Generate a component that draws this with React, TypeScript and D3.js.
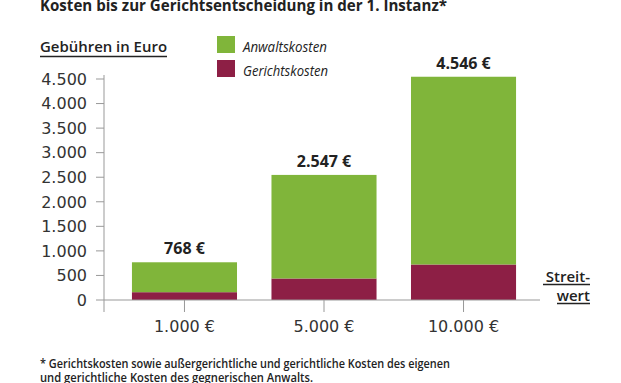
import React from "react";
import * as d3 from "d3";

const categories = ["1.000 €", "5.000 €", "10.000 €"];
const gerichtskosten = [159, 438, 723];
const totals = [768, 2547, 4546];
const anwaltskosten = totals.map((t, i) => t - gerichtskosten[i]);
const totalLabels = ["768 €", "2.547 €", "4.546 €"];
const yTicks = [0, 500, 1000, 1500, 2000, 2500, 3000, 3500, 4000, 4500];
const seriesNames = ["Anwaltskosten", "Gerichtskosten"];

const GREEN = "#80b53a";
const MAROON = "#8d1f45";
const TEXT = "#222";
const AXIS = "#999";

const W = 621;
const H = 383;

export default function App() {
  const y = d3.scaleLinear().domain([0, 4500]).range([300, 79]);
  const x = d3
    .scaleBand<string>()
    .domain(categories)
    .range([106, 542])
    .paddingInner(0.247)
    .paddingOuter(0.186);
  const fmt = (v: number) => d3.format(",")(v).replace(/,/g, ".");

  const rows = categories.map((c, i) => ({
    cat: c,
    Gerichtskosten: gerichtskosten[i],
    Anwaltskosten: anwaltskosten[i],
  }));
  const stack = d3.stack<any>().keys(["Gerichtskosten", "Anwaltskosten"])(rows);
  const colors: Record<string, string> = { Gerichtskosten: MAROON, Anwaltskosten: GREEN };

  const cond = "'Open Sans', 'Noto Sans', sans-serif";
  const dv = "'DejaVu Sans', sans-serif";

  return (
    <svg
      width={W}
      height={H}
      style={{ position: "absolute", left: 0, top: 0, background: "#fff" }}
    >
      <rect x={0} y={0} width={W} height={H} fill="#fff" />
      {/* Title */}
      <text
        x={40}
        y={11}
        fontFamily={cond}
        fontWeight={700}
        fontSize={16}
        fill={TEXT}
        textLength={407}
        lengthAdjust="spacingAndGlyphs"
      >
        Kosten bis zur Gerichtsentscheidung in der 1. Instanz*
      </text>

      {/* Y axis title */}
      <text
        x={40}
        y={52}
        fontFamily={cond}
        fontWeight={600}
        fontSize={15}
        fill={TEXT}
        textLength={127}
        lengthAdjust="spacingAndGlyphs"
      >
        Gebühren in Euro
      </text>
      <line x1={40} x2={167} y1={56.5} y2={56.5} stroke={TEXT} strokeWidth={1.5} />

      {/* Legend */}
      {seriesNames.map((s, i) => (
        <g key={s}>
          <rect x={217} y={36 + i * 24} width={18} height={17} fill={colors[s]} />
          <text
            x={243}
            y={52 + i * 24}
            fontFamily={cond}
            fontStyle="italic"
            fontSize={14}
            fill={TEXT}
            textLength={s === "Anwaltskosten" ? 84 : 85}
            lengthAdjust="spacingAndGlyphs"
          >
            {s}
          </text>
        </g>
      ))}

      {/* Y axis */}
      <line x1={104} x2={104} y1={75} y2={312} stroke={AXIS} strokeWidth={1} />
      {yTicks.map((t) => (
        <g key={t}>
          <line x1={96} x2={104} y1={y(t)} y2={y(t)} stroke={AXIS} strokeWidth={1} />
          <text
            x={87}
            y={y(t)}
            dy="0.36em"
            textAnchor="end"
            fontFamily={dv}
            fontSize={16}
            fill="#333"
          >
            {fmt(t)}
          </text>
        </g>
      ))}

      {/* Bars */}
      {stack.map((layer) => (
        <g key={layer.key} fill={colors[layer.key]}>
          {layer.map((d, i) => (
            <rect
              key={i}
              x={x(categories[i])}
              y={y(d[1])}
              width={x.bandwidth()}
              height={y(d[0]) - y(d[1])}
            />
          ))}
        </g>
      ))}

      {/* X axis */}
      <line x1={104} x2={540} y1={300} y2={300} stroke={AXIS} strokeWidth={1} />
      {categories.map((c) => {
        const cx = (x(c) as number) + x.bandwidth() / 2;
        return (
          <g key={c}>
            <line x1={cx} x2={cx} y1={300} y2={312} stroke={AXIS} strokeWidth={1} />
            <text
              x={cx}
              y={332}
              textAnchor="middle"
              fontFamily={dv}
              fontSize={16}
              fill="#333"
            >
              {c}
            </text>
          </g>
        );
      })}

      {/* Totals */}
      {categories.map((c, i) => (
        <text
          key={c}
          x={(x(c) as number) + x.bandwidth() / 2}
          y={y(totals[i]) - 8}
          textAnchor="middle"
          fontFamily={cond}
          fontWeight={700}
          fontSize={16}
          fill={TEXT}
        >
          {totalLabels[i]}
        </text>
      ))}

      {/* Streitwert */}
      <text
        x={590}
        y={282}
        textAnchor="end"
        fontFamily={cond}
        fontWeight={600}
        fontSize={15}
        fill={TEXT}
      >
        Streit-
      </text>
      <line x1={543} x2={590} y1={284.5} y2={284.5} stroke={TEXT} strokeWidth={1.5} />
      <text
        x={590}
        y={301}
        textAnchor="end"
        fontFamily={cond}
        fontWeight={600}
        fontSize={15}
        fill={TEXT}
      >
        wert
      </text>
      <line x1={557} x2={590} y1={303.5} y2={303.5} stroke={TEXT} strokeWidth={1.5} />

      {/* Footnote */}
      <text
        x={40}
        y={368}
        fontFamily={cond}
        fontWeight={600}
        fontSize={12}
        fill={TEXT}
        textLength={410}
        lengthAdjust="spacingAndGlyphs"
      >
        * Gerichtskosten sowie außergerichtliche und gerichtliche Kosten des eigenen
      </text>
      <text
        x={40}
        y={382}
        fontFamily={cond}
        fontWeight={600}
        fontSize={12}
        fill={TEXT}
        textLength={273}
        lengthAdjust="spacingAndGlyphs"
      >
        und gerichtliche Kosten des gegnerischen Anwalts.
      </text>
    </svg>
  );
}
